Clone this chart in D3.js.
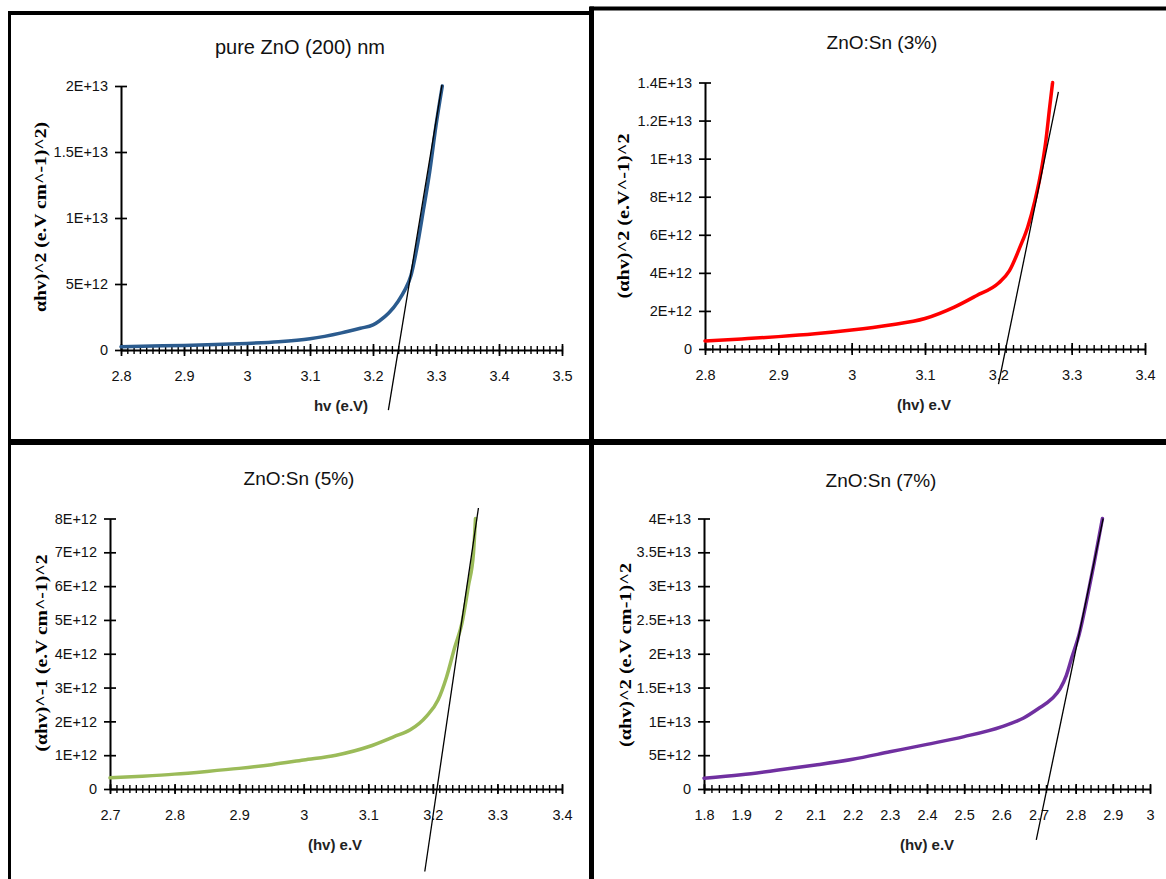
<!DOCTYPE html>
<html>
<head>
<meta charset="utf-8">
<script src="https://cdn.jsdelivr.net/npm/d3@7"></script>
<style>
  body { margin: 0; background: #fff; }
  svg { display: block; }
</style>
</head>
<body>
<div id="chart"></div>
<script>
// pure ZnO (200 nm)
const pureHv = [2.8, 2.85, 2.9, 2.95, 3.0, 3.05, 3.1, 3.15, 3.18, 3.2, 3.21, 3.225, 3.24, 3.25, 3.26, 3.27, 3.28, 3.29, 3.3, 3.31]
const pureAlpha = [2.5e11, 3.0e11, 3.5e11, 4.2e11, 5.0e11, 6.2e11, 8.5e11, 1.3e12, 1.65e12, 1.9e12, 2.2e12, 2.8e12, 3.7e12, 4.5e12, 5.6e12, 7.8e12, 1.06e13, 1.35e13, 1.7e13, 2.0e13]
const pureFitHv = [3.2244, 3.3095]
const pureFitAlpha = [-4.56e12, 2.008e13]
const pureXTicks = [2.8, 2.9, 3, 3.1, 3.2, 3.3, 3.4, 3.5]
const pureYTicks = [0, 5e12, 1e13, 1.5e13, 2e13]

// ZnO:Sn 3%
const sn3Hv = [2.8, 2.85, 2.9, 2.95, 3.0, 3.05, 3.1, 3.14, 3.17, 3.2, 3.215, 3.23, 3.24, 3.25, 3.26, 3.265, 3.27, 3.274]
const sn3Alpha = [4.2e11, 5.3e11, 6.5e11, 8.0e11, 1.0e12, 1.25e12, 1.6e12, 2.2e12, 2.8e12, 3.45e12, 4.1e12, 5.4e12, 6.4e12, 7.8e12, 9.7e12, 1.1e13, 1.27e13, 1.4e13]
const sn3FitHv = [3.2002, 3.2819]
const sn3FitAlpha = [-1.84e12, 1.351e13]
const sn3XTicks = [2.8, 2.9, 3, 3.1, 3.2, 3.3, 3.4]
const sn3YTicks = [0, 2e12, 4e12, 6e12, 8e12, 1e13, 1.2e13, 1.4e13]

// ZnO:Sn 5%
const sn5Hv = [2.7, 2.75, 2.8, 2.85, 2.9, 2.95, 3.0, 3.05, 3.1, 3.14, 3.165, 3.19, 3.208, 3.221, 3.234, 3.245, 3.255, 3.263, 3.266]
const sn5Alpha = [3.3e11, 3.8e11, 4.4e11, 5.2e11, 6.1e11, 7.2e11, 8.6e11, 1.0e12, 1.25e12, 1.55e12, 1.75e12, 2.15e12, 2.63e12, 3.3e12, 4.2e12, 4.9e12, 6.0e12, 7.0e12, 8.0e12]
const sn5FitHv = [3.1875, 3.2706]
const sn5FitAlpha = [-2.44e12, 8.31e12]
const sn5XTicks = [2.7, 2.8, 2.9, 3, 3.1, 3.2, 3.3, 3.4]
const sn5YTicks = [0, 1e12, 2e12, 3e12, 4e12, 5e12, 6e12, 7e12, 8e12]

// ZnO:Sn 7%
const sn7Hv = [1.8, 1.9, 2.0, 2.1, 2.2, 2.3, 2.4, 2.5, 2.6, 2.66, 2.7, 2.735, 2.758, 2.775, 2.79, 2.81, 2.83, 2.85, 2.872]
const sn7Alpha = [1.6e12, 2.1e12, 2.8e12, 3.55e12, 4.4e12, 5.5e12, 6.6e12, 7.75e12, 9.2e12, 1.05e13, 1.19e13, 1.33e13, 1.48e13, 1.68e13, 1.95e13, 2.3e13, 2.8e13, 3.35e13, 4.0e13]
const sn7FitHv = [2.694, 2.874]
const sn7FitAlpha = [-7.54e12, 4.0e13]
const sn7XTicks = [1.8, 1.9, 2, 2.1, 2.2, 2.3, 2.4, 2.5, 2.6, 2.7, 2.8, 2.9, 3]
const sn7YTicks = [0, 5e12, 1e13, 1.5e13, 2e13, 2.5e13, 3e13, 3.5e13, 4e13]

const width = 1166
const height = 879
const tickFont = "'Liberation Sans', Arial, sans-serif"
const serifFont = "'Liberation Serif', 'Times New Roman', serif"

const panels = [
  {
    title: "pure ZnO (200) nm", xLabel: "hv (e.V)", yLabel: "αhv)^2 (e.V cm^-1)^2)",
    hv: pureHv, alpha: pureAlpha, fitHv: pureFitHv, fitAlpha: pureFitAlpha,
    xTicks: pureXTicks, yTicks: pureYTicks, minorStep: 0.01, color: "#2B5B8E",
    xRange: [121, 562], yRange: [350, 86], titlePos: [300, 47], titleSize: 20,
    xLabelPos: [341, 405], yLabelPos: [40, 217], yLabelLen: 190, majorTick: 6, minorTick: 4
  },
  {
    title: "ZnO:Sn (3%)", xLabel: "(hv) e.V", yLabel: "(αhv)^2 (e.V^-1)^2",
    hv: sn3Hv, alpha: sn3Alpha, fitHv: sn3FitHv, fitAlpha: sn3FitAlpha,
    xTicks: sn3XTicks, yTicks: sn3YTicks, minorStep: 0.01, color: "#FF0000",
    xRange: [705, 1145], yRange: [349, 82.5], titlePos: [882, 42], titleSize: 19,
    xLabelPos: [924, 404], yLabelPos: [623, 216], yLabelLen: 165, majorTick: 6, minorTick: 4
  },
  {
    title: "ZnO:Sn (5%)", xLabel: "(hv) e.V", yLabel: "(αhv)^-1 (e.V cm^-1)^2",
    hv: sn5Hv, alpha: sn5Alpha, fitHv: sn5FitHv, fitAlpha: sn5FitAlpha,
    xTicks: sn5XTicks, yTicks: sn5YTicks, minorStep: 0.01, color: "#9BBB59",
    xRange: [110, 562], yRange: [789, 518.5], titlePos: [299, 478], titleSize: 19,
    xLabelPos: [335, 844], yLabelPos: [41, 653], yLabelLen: 197, majorTick: 5, minorTick: 4
  },
  {
    title: "ZnO:Sn (7%)", xLabel: "(hv) e.V", yLabel: "(αhv)^2 (e.V cm-1)^2",
    hv: sn7Hv, alpha: sn7Alpha, fitHv: sn7FitHv, fitAlpha: sn7FitAlpha,
    xTicks: sn7XTicks, yTicks: sn7YTicks, minorStep: 0.02, color: "#7030A0",
    xRange: [704, 1150], yRange: [789, 518.5], titlePos: [881, 480], titleSize: 19,
    xLabelPos: [927, 844], yLabelPos: [625, 655], yLabelLen: 184, majorTick: 5, minorTick: 4
  }
]

// excel-like scientific labels: 0, 5E+12, 1.5E+13
const sciFormat = d => {
  if (d === 0) return "0"
  const e = Math.floor(Math.log10(d) + 1e-9)
  const m = +(d / Math.pow(10, e)).toFixed(2)
  return `${m}E+${e}`
}

const svg = d3.select("#chart").append("svg")
  .attr("width", width)
  .attr("height", height)

svg.append("rect")
  .attr("width", width)
  .attr("height", height)
  .attr("fill", "#fff")

function drawPanel(p) {
  const g = svg.append("g")

  const x = d3.scaleLinear()
    .domain([p.xTicks[0], p.xTicks[p.xTicks.length - 1]])
    .range(p.xRange)
  const y = d3.scaleLinear()
    .domain([p.yTicks[0], p.yTicks[p.yTicks.length - 1]])
    .range(p.yRange)

  const y0 = y(0)

  // minor ticks
  const [d0, d1] = x.domain()
  const nMinor = Math.round((d1 - d0) / p.minorStep)
  const minor = d3.range(nMinor + 1).map(i => d0 + i * p.minorStep)

  g.append("g")
    .attr("transform", `translate(0,${y0})`)
    .call(d3.axisBottom(x).tickValues(minor).tickFormat("").tickSizeOuter(0))
    .call(a => a.select(".domain").remove())
    .call(a => a.selectAll(".tick line")
      .attr("y1", -p.minorTick)
      .attr("y2", p.minorTick)
      .attr("stroke", "#000")
      .attr("stroke-width", 1.4))

  // major x axis
  g.append("g")
    .attr("transform", `translate(0,${y0})`)
    .call(d3.axisBottom(x).tickValues(p.xTicks).tickFormat(d => String(d))
      .tickSize(5).tickPadding(16).tickSizeOuter(0))
    .call(a => a.select(".domain").attr("stroke", "#000").attr("stroke-width", 2))
    .call(a => a.selectAll(".tick line")
      .attr("y1", -p.majorTick)
      .attr("y2", p.majorTick)
      .attr("stroke", "#000")
      .attr("stroke-width", 1.7))
    .call(a => a.selectAll(".tick text")
      .attr("fill", "#111")
      .attr("font-family", tickFont)
      .attr("font-size", 14.5))

  // y axis
  g.append("g")
    .attr("transform", `translate(${p.xRange[0]},0)`)
    .call(d3.axisLeft(y).tickValues(p.yTicks).tickFormat(sciFormat)
      .tickSize(6).tickPadding(7).tickSizeOuter(0))
    .call(a => a.select(".domain").attr("stroke", "#000").attr("stroke-width", 2))
    .call(a => a.selectAll(".tick line")
      .attr("x1", -6)
      .attr("x2", 6)
      .attr("stroke", "#000")
      .attr("stroke-width", 1.7))
    .call(a => a.selectAll(".tick text")
      .attr("fill", "#111")
      .attr("font-family", tickFont)
      .attr("font-size", 14.5))

  // data curve
  const pts = d3.zip(p.hv, p.alpha)
  const line = d3.line()
    .x(d => x(d[0]))
    .y(d => y(d[1]))
    .curve(d3.curveMonotoneX)

  g.append("path")
    .datum(pts)
    .attr("d", line)
    .attr("fill", "none")
    .attr("stroke", p.color)
    .attr("stroke-width", 3.5)
    .attr("stroke-linecap", "round")
    .attr("stroke-linejoin", "round")

  // tangent (band gap extrapolation)
  g.append("path")
    .datum(d3.zip(p.fitHv, p.fitAlpha))
    .attr("d", d3.line().x(d => x(d[0])).y(d => y(d[1])))
    .attr("fill", "none")
    .attr("stroke", "#000")
    .attr("stroke-width", 1.3)

  // titles and labels
  g.append("text")
    .attr("x", p.titlePos[0])
    .attr("y", p.titlePos[1])
    .attr("text-anchor", "middle")
    .attr("dominant-baseline", "central")
    .attr("font-family", tickFont)
    .attr("font-size", p.titleSize)
    .attr("fill", "#111")
    .text(p.title)

  g.append("text")
    .attr("x", p.xLabelPos[0])
    .attr("y", p.xLabelPos[1])
    .attr("text-anchor", "middle")
    .attr("dominant-baseline", "central")
    .attr("font-family", tickFont)
    .attr("font-weight", "bold")
    .attr("font-size", 15)
    .attr("fill", "#222")
    .text(p.xLabel)

  g.append("text")
    .attr("transform", `translate(${p.yLabelPos[0]},${p.yLabelPos[1]}) rotate(-90)`)
    .attr("text-anchor", "middle")
    .attr("dominant-baseline", "central")
    .attr("font-family", serifFont)
    .attr("font-weight", "bold")
    .attr("font-size", 16)
    .attr("textLength", p.yLabelLen)
    .attr("lengthAdjust", "spacingAndGlyphs")
    .attr("fill", "#000")
    .text(p.yLabel)
}

panels.forEach(drawPanel)

// black frames around the four pasted figures
const frames = [
  {x1: 8, y1: 13, x2: 592, y2: 13, w: 4},
  {x1: 590, y1: 8.5, x2: width, y2: 8.5, w: 4},
  {x1: 9.5, y1: 11, x2: 9.5, y2: height, w: 3},
  {x1: 591.5, y1: 6.5, x2: 591.5, y2: height, w: 5},
  {x1: 8, y1: 442, x2: width, y2: 442, w: 6}
]

svg.append("g")
  .selectAll("line")
  .data(frames)
  .join("line")
    .attr("x1", d => d.x1)
    .attr("y1", d => d.y1)
    .attr("x2", d => d.x2)
    .attr("y2", d => d.y2)
    .attr("stroke", "#000")
    .attr("stroke-width", d => d.w)
</script>
</body>
</html>
